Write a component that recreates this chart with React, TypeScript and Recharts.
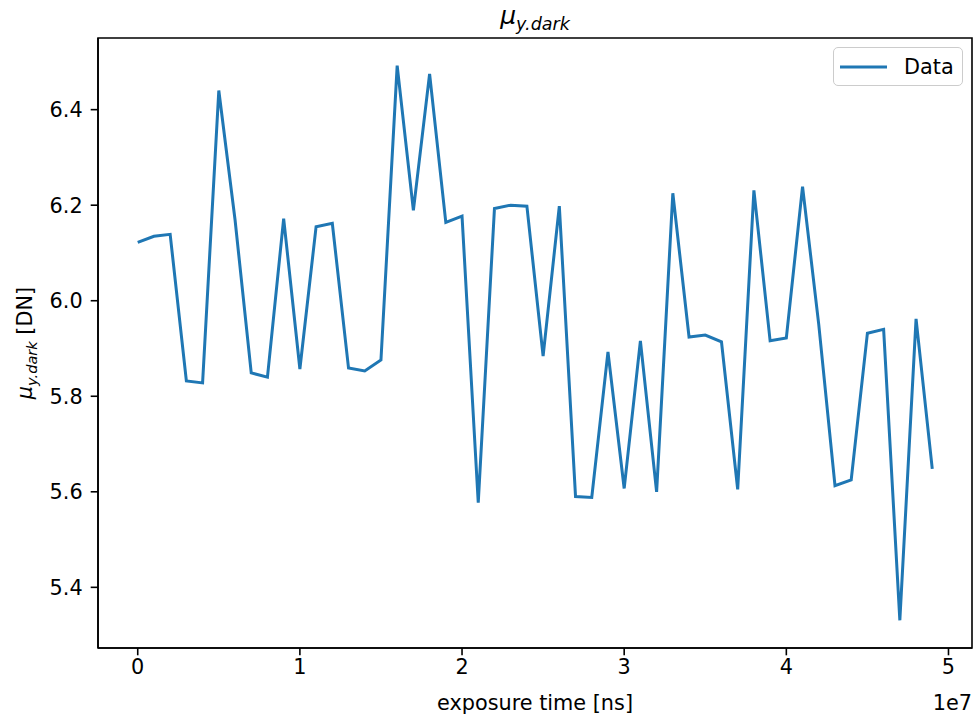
import { LineChart, Line, XAxis, YAxis, ReferenceArea } from 'recharts';

// exposure time [ns]
const exposureTimes = [
  0, 1000000, 2000000, 3000000, 4000000, 5000000, 6000000, 7000000, 8000000, 9000000,
  10000000, 11000000, 12000000, 13000000, 14000000, 15000000, 16000000, 17000000, 18000000, 19000000,
  20000000, 21000000, 22000000, 23000000, 24000000, 25000000, 26000000, 27000000, 28000000, 29000000,
  30000000, 31000000, 32000000, 33000000, 34000000, 35000000, 36000000, 37000000, 38000000, 39000000,
  40000000, 41000000, 42000000, 43000000, 44000000, 45000000, 46000000, 47000000, 48000000, 49000000,
];

// mu_y.dark [DN]
const muDark = [
  6.122, 6.135, 6.139, 5.832, 5.828, 6.44, 6.17, 5.849, 5.84, 6.172,
  5.857, 6.155, 6.162, 5.859, 5.853, 5.876, 6.492, 6.189, 6.475, 6.164,
  6.177, 5.577, 6.193, 6.2, 6.198, 5.884, 6.198, 5.59, 5.588, 5.893,
  5.607, 5.916, 5.6, 6.225, 5.924, 5.928, 5.914, 5.605, 6.231, 5.916,
  5.922, 6.239, 5.95, 5.613, 5.625, 5.932, 5.94, 5.331, 5.962, 5.648,
];

const xTicks = [0, 10000000, 20000000, 30000000, 40000000, 50000000];
const yTicks = [5.4, 5.6, 5.8, 6.0, 6.2, 6.4];
const xDomain = [-2450000, 51450000];
const yDomain = [5.273, 6.55];

const chartData = exposureTimes.map((t, i) => ({ x: t, y: muDark[i] }));

const FONT = '"DejaVu Sans", sans-serif';
const FS = 20.8;
const BLUE = '#1f77b4';
const TOP = 38;

const axisStyle = { stroke: '#000', strokeWidth: 1.6 };

// matplotlib-style math label: italic mu with italic subscript
const MuLabel = ({ x, y, size, rotate, suffix }: { x: number; y: number; size: number; rotate?: boolean; suffix?: string }) => (
  <text
    x={x}
    y={y}
    textAnchor="middle"
    fontFamily={FONT}
    fontSize={size}
    fill="#000"
    transform={rotate ? `rotate(-90, ${x}, ${y})` : undefined}
  >
    <tspan fontStyle="italic">μ</tspan>
    <tspan fontStyle="italic" fontSize={size * 0.7} dy={size * 0.22}>y.dark</tspan>
    {suffix ? <tspan dy={-size * 0.22}>{suffix}</tspan> : null}
  </text>
);

const LegendBox = () => (
  <div
    style={{
      position: 'absolute',
      left: 833,
      top: 47,
      width: 130,
      height: 39,
      border: '1.5px solid #cccccc',
      borderRadius: 5,
      background: 'rgba(255,255,255,0.8)',
      boxSizing: 'border-box',
      display: 'flex',
      alignItems: 'center',
      fontFamily: FONT,
      fontSize: FS,
    }}
  >
    <svg width={66} height={20} style={{ marginLeft: 6 }}>
      <line x1={0} y1={10} x2={47} y2={10} stroke={BLUE} strokeWidth={3} />
    </svg>
    <span style={{ marginLeft: -2 }}>Data</span>
  </div>
);

export default function App() {
  return (
    <div style={{ position: 'absolute', left: 0, top: 0, width: 976, height: 720, background: '#fff' }}>
      <LineChart width={976} height={720} data={chartData} margin={{ top: TOP, right: 4, bottom: 0, left: 0 }}>
        <XAxis
          dataKey="x"
          type="number"
          domain={xDomain}
          ticks={xTicks}
          tickFormatter={(v: number) => `${v / 10000000}`}
          height={72}
          axisLine={axisStyle}
          tickLine={axisStyle}
          tickSize={7.3}
          tickMargin={4}
          tick={{ fill: '#000', fontFamily: FONT, fontSize: FS }}
          allowDataOverflow
          label={{
            content: (props: any) => {
              const vb = props.viewBox || {};
              const cx = vb.x + vb.width / 2;
              return (
                <g>
                  <text x={cx} y={vb.y + 62} textAnchor="middle" fontFamily={FONT} fontSize={FS} fill="#000">
                    exposure time [ns]
                  </text>
                  <text x={vb.x + vb.width} y={vb.y + 62} textAnchor="end" fontFamily={FONT} fontSize={FS} fill="#000">
                    1e7
                  </text>
                  <MuLabel x={cx} y={TOP - 14} size={25} />
                </g>
              );
            },
          }}
        />
        <YAxis
          dataKey="y"
          type="number"
          domain={yDomain}
          ticks={yTicks}
          tickFormatter={(v: number) => v.toFixed(1)}
          width={98}
          axisLine={axisStyle}
          tickLine={axisStyle}
          tickSize={7.3}
          tickMargin={8}
          tick={{ fill: '#000', fontFamily: FONT, fontSize: FS }}
          allowDataOverflow
          label={{
            content: (props: any) => {
              const vb = props.viewBox || {};
              return <MuLabel x={32} y={vb.y + vb.height / 2} size={FS} rotate suffix=" [DN]" />;
            },
          }}
        />
        {/* frame around the plot area, like matplotlib spines */}
        <ReferenceArea
          x1={xDomain[0]}
          x2={xDomain[1]}
          y1={yDomain[0]}
          y2={yDomain[1]}
          fill="none"
          fillOpacity={0}
          stroke="#000"
          strokeWidth={1.6}
          ifOverflow="visible"
        />
        <Line
          type="linear"
          dataKey="y"
          name="Data"
          stroke={BLUE}
          strokeWidth={3}
          dot={false}
          activeDot={false}
          isAnimationActive={false}
        />
      </LineChart>
      <LegendBox />
    </div>
  );
}
